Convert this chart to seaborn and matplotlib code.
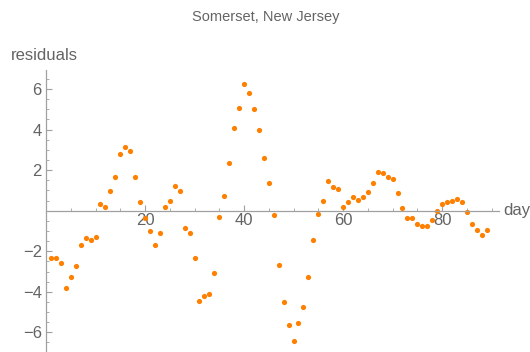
import pandas as pd
import seaborn as sns
from matplotlib import pyplot as plt
import matplotlib.ticker as mtick

# residuals per day
days = list(range(1, 90))
residuals = [
    -2.32, -2.31, -2.59, -3.82, -3.28, -2.75, -1.71, -1.35, -1.43, -1.28,
    0.31, 0.16, 0.96, 1.65, 2.80, 3.13, 2.95, 1.68, 0.43, -0.35,
    -1.00, -1.70, -1.10, 0.16, 0.48, 1.20, 0.99, -0.84, -1.10, -2.31,
    -4.43, -4.20, -4.10, -3.05, -0.30, 0.74, 2.36, 4.09, 5.09, 6.24,
    5.80, 5.04, 3.99, 2.62, 1.37, -0.21, -2.69, -4.50, -5.65, -6.41,
    -5.54, -4.73, -3.28, -1.47, -0.16, 0.48, 1.45, 1.19, 1.09, 0.16,
    0.41, 0.68, 0.53, 0.66, 0.94, 1.35, 1.91, 1.86, 1.66, 1.57,
    0.86, 0.12, -0.38, -0.38, -0.68, -0.77, -0.77, -0.44, -0.03, 0.31,
    0.44, 0.48, 0.59, 0.44, -0.08, -0.68, -0.96, -1.20, -0.97,
]
x_ticks = [20, 40, 60, 80]
y_ticks = [-6, -4, -2, 2, 4, 6]

sns.set_style('white')
plt.rcParams['font.family'] = ['Liberation Sans', 'DejaVu Sans']

text_color = '#646464'
axis_color = '#a0a0a0'

df = pd.DataFrame({'day': days, 'residual': residuals})

fig = plt.figure(figsize=(5.3, 3.52), dpi=100)
ax = fig.add_axes([46 / 530, 0.0, 453 / 530, 282 / 352])

sns.scatterplot(data=df, x='day', y='residual', ax=ax, color='#ff8000',
                s=14, linewidth=0, clip_on=False)

ax.set_xlim(0, 91.5)
ax.set_ylim(-6.97, 6.94)

# Mathematica-style axes crossing at the origin
for side in ['top', 'right']:
    ax.spines[side].set_visible(False)
ax.spines['left'].set_position(('data', 0))
ax.spines['bottom'].set_position(('data', 0))
for side in ['left', 'bottom']:
    ax.spines[side].set_color(axis_color)
    ax.spines[side].set_linewidth(0.9)

ax.set_xticks(x_ticks)
ax.set_yticks(y_ticks)
ax.xaxis.set_minor_locator(mtick.MultipleLocator(5))
ax.yaxis.set_minor_locator(mtick.MultipleLocator(0.5))
ax.tick_params(which='major', direction='in', length=4, width=0.8,
               color=axis_color, labelcolor=text_color, labelsize=12, pad=3)
ax.tick_params(which='minor', direction='in', length=2, width=0.6,
               color=axis_color)
ax.tick_params(axis='x', which='both', bottom=True)
ax.tick_params(axis='y', which='both', left=True)
ax.xaxis.set_tick_params(which='major', pad=2)

ax.set_xlabel('')
ax.set_ylabel('')
fig.text(503 / 530, 1 - 210 / 352, 'days', ha='left', va='center',
         fontsize=12, color=text_color)
fig.text(11 / 530, 1 - 55 / 352, 'residuals', ha='left', va='center',
         fontsize=12, color=text_color)
fig.text(266 / 530, 1 - 17 / 352, 'Somerset, New Jersey', ha='center',
         va='center', fontsize=10.5, color=text_color)

plt.savefig('out.png', dpi=100)
